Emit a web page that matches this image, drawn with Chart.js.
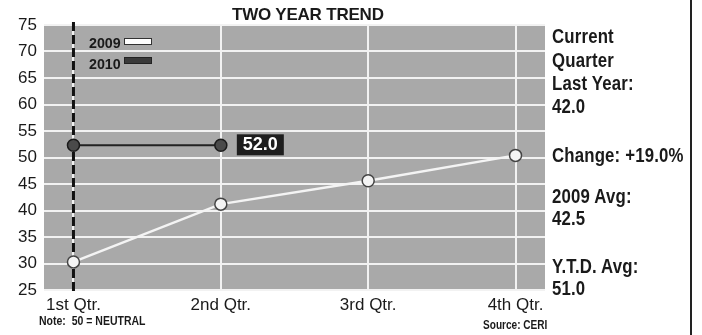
<!DOCTYPE html>
<html>
<head>
<meta charset="utf-8">
<script src="https://cdn.jsdelivr.net/npm/chart.js@4/dist/chart.umd.min.js"></script>
<style>
  html, body { margin: 0; padding: 0; background: #fff; }
  #wrap { position: relative; width: 702px; height: 335px; overflow: hidden; }
  #myChart { position: absolute; left: 0; top: 0; }
  .txt { position: absolute; white-space: nowrap; color: #1a1a1a; }
  .narrow { font-family: "Liberation Sans", Arial, sans-serif; font-weight: bold; transform-origin: left top; transform: scaleX(0.84); }
  #title { left: 232px; top: 5px; font: bold 17px "Liberation Sans", Arial, sans-serif; letter-spacing: -0.2px; }
  .side { left: 552px; font-size: 20px; line-height: 20px; letter-spacing: 0.2px; }
  .leg { font-size: 15px; line-height: 15px; transform: scaleX(0.95); }
  .bar { position: absolute; width: 26px; height: 5px; border: 1px solid #333; }
  #border { position: absolute; left: 690px; top: 0; width: 2px; height: 335px; background: #222; }
</style>
</head>
<body>
<div id="wrap">
  <canvas id="myChart" width="702" height="335"></canvas>
  <div id="title" class="txt">TWO YEAR TREND</div>

  <div class="txt narrow leg" style="left:89px; top:35px;">2009</div>
  <div class="bar" style="left:124px; top:38px; background:#fff;"></div>
  <div class="txt narrow leg" style="left:89px; top:56px;">2010</div>
  <div class="bar" style="left:124px; top:57px; background:#3a3a3a; border-color:#222;"></div>

  <div class="txt narrow side" style="top:26px;">Current</div>
  <div class="txt narrow side" style="top:50px;">Quarter</div>
  <div class="txt narrow side" style="top:73px;">Last Year:</div>
  <div class="txt narrow side" style="top:96px;">42.0</div>
  <div class="txt narrow side" style="top:145px;">Change: +19.0%</div>
  <div class="txt narrow side" style="top:186px;">2009 Avg:</div>
  <div class="txt narrow side" style="top:208px;">42.5</div>
  <div class="txt narrow side" style="top:256px;">Y.T.D. Avg:</div>
  <div class="txt narrow side" style="top:278px;">51.0</div>

  <div class="txt narrow" style="left:39px; top:314px; font-size:12.5px;">Note:&nbsp; 50 = NEUTRAL</div>
  <div class="txt narrow" style="left:483px; top:318px; font-size:12px;">Source: CERI</div>
  <div id="border"></div>
</div>
<script>
const quarters = ['1st Qtr.', '2nd Qtr.', '3rd Qtr.', '4th Qtr.'];
const values2009 = [30.3, 41.2, 45.6, 50.4];
const values2010 = [52.3, 52.3];
const latestLabel = '52.0';
const yTicks = [25, 30, 35, 40, 45, 50, 55, 60, 65, 70, 75];

// gray plot background + dashed marker on the current quarter
const plotDecor = {
  id: 'plotDecor',
  beforeDraw(chart) {
    const { ctx, chartArea: a } = chart;
    ctx.save();
    ctx.fillStyle = '#a9a9a9';
    ctx.fillRect(a.left, a.top, a.right - a.left, a.bottom - a.top);
    ctx.restore();
  },
  beforeDatasetsDraw(chart) {
    const { ctx, chartArea: a, scales } = chart;
    const x = scales.x.getPixelForValue(0);
    ctx.save();
    ctx.strokeStyle = '#111';
    ctx.lineWidth = 3;
    ctx.setLineDash([9, 4]);
    ctx.beginPath();
    ctx.moveTo(x, a.top - 3);
    ctx.lineTo(x, a.bottom + 2);
    ctx.stroke();
    ctx.restore();
  },
  afterDatasetsDraw(chart) {
    const { ctx } = chart;
    const pts = chart.getDatasetMeta(1).data;
    const p = pts[pts.length - 1];
    ctx.save();
    ctx.fillStyle = '#1e1e1e';
    ctx.fillRect(p.x + 16, p.y - 11, 47, 21);
    ctx.fillStyle = '#fff';
    ctx.font = 'bold 18px "Liberation Sans", Arial, sans-serif';
    ctx.textAlign = 'center';
    ctx.textBaseline = 'middle';
    ctx.fillText(latestLabel, p.x + 39.5, p.y);
    ctx.restore();
  }
};

const ctx = document.getElementById('myChart').getContext('2d');

const myChart = new Chart(ctx, {
  type: 'line',
  data: {
    datasets: [{
      label: '2009',
      data: values2009.map((v, i) => ({ x: i, y: v })),
      borderColor: '#f4f4f4',
      borderWidth: 2.5,
      pointBackgroundColor: '#f4f4f4',
      pointBorderColor: '#444',
      pointBorderWidth: 1.5,
      pointRadius: 6,
      tension: 0
    }, {
      label: '2010',
      data: values2010.map((v, i) => ({ x: i, y: v })),
      borderColor: '#222',
      borderWidth: 2,
      pointBackgroundColor: '#4a4a4a',
      pointBorderColor: '#1a1a1a',
      pointBorderWidth: 1.5,
      pointRadius: 6,
      tension: 0
    }]
  },
  options: {
    responsive: false,
    animation: false,
    layout: { padding: { top: 25, right: 157, bottom: 0, left: 0 } },
    plugins: {
      legend: { display: false },
      tooltip: { enabled: false }
    },
    scales: {
      x: {
        type: 'linear',
        min: -0.2,
        max: 3.2,
        afterBuildTicks: (s) => { s.ticks = quarters.map((q, i) => ({ value: i })); },
        afterFit: (s) => { s.height = 45; },
        grid: { color: '#f2f2f2', lineWidth: 2, drawTicks: false },
        border: { display: false },
        ticks: {
          padding: 5,
          color: '#1a1a1a',
          font: { family: '"Liberation Sans", Arial, sans-serif', size: 17 },
          callback: (v) => quarters[v]
        }
      },
      y: {
        min: 25,
        max: 75,
        afterBuildTicks: (s) => { s.ticks = yTicks.map(v => ({ value: v })); },
        afterFit: (s) => { s.width = 44; },
        grid: { color: '#f2f2f2', lineWidth: 2, drawTicks: false },
        border: { display: false },
        ticks: {
          padding: 7,
          color: '#1a1a1a',
          font: { family: '"Liberation Sans", Arial, sans-serif', size: 17 }
        }
      }
    }
  },
  plugins: [plotDecor]
});
</script>
</body>
</html>
